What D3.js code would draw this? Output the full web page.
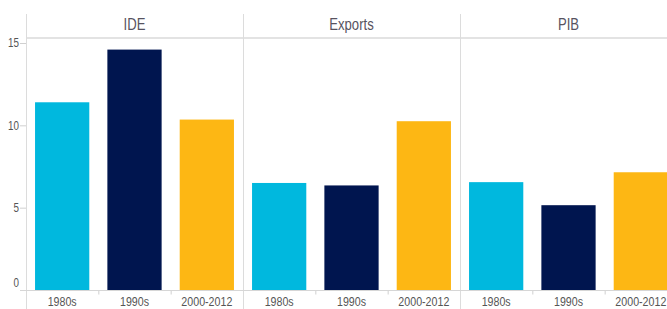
<!DOCTYPE html>
<html>
<head>
<meta charset="utf-8">
<script src="https://cdn.jsdelivr.net/npm/d3@7"></script>
<style>
  body { margin: 0; background: #fff; }
  svg { display: block; font-family: "Liberation Sans", Arial, sans-serif; }
</style>
</head>
<body>
<svg id="chart" width="667" height="309"></svg>
<script>
// facets and periods
var indicators = ["IDE", "Exports", "PIB"];
var periods = ["1980s", "1990s", "2000-2012"];

// values, one array per indicator
var ideValues = [11.4, 14.6, 10.35];
var exportsValues = [6.5, 6.35, 10.25];
var pibValues = [6.55, 5.15, 7.15];

var yTicks = [0, 5, 10, 15];
var colors = ["#00b8de", "#00154f", "#fdb714"];

var series = [ideValues, exportsValues, pibValues];
var data = [];
indicators.forEach(function(ind, i) {
  periods.forEach(function(p, j) {
    data.push({ indicator: ind, period: p, value: series[i][j] });
  });
});

var svg = d3.select("#chart");
var left = 26, panelW = 217, headerY = 38, bottom = 290;
var narrow = 0.82; // squeeze text horizontally, like a narrow font

var fx = d3.scaleBand()
  .domain(indicators)
  .range([left, left + panelW * indicators.length]);

var x = d3.scaleBand()
  .domain(periods)
  .range([0, panelW])
  .paddingInner(0.25)
  .paddingOuter(0.125);

var y = d3.scaleLinear()
  .domain([0, 15])
  .range([bottom, 43]);

var color = d3.scaleOrdinal().domain(periods).range(colors);

function narrowText(sel, fx_, fy_) {
  sel.attr("x", 0).attr("y", 0)
    .attr("transform", function(d, i) {
      return "translate(" + fx_(d, i) + "," + fy_(d, i) + ") scale(" + narrow + ",1)";
    });
}

// header line
svg.append("line")
  .attr("x1", left).attr("x2", 667)
  .attr("y1", headerY).attr("y2", headerY)
  .attr("stroke", "#e3e3e3")
  .attr("stroke-width", 2);

// panel dividers (incl. left axis line)
var dividers = indicators.map(function(d) { return fx(d); });
svg.append("g").selectAll("line")
  .data(dividers)
  .enter().append("line")
  .attr("x1", function(d) { return d + 0.5; })
  .attr("x2", function(d) { return d + 0.5; })
  .attr("y1", 14).attr("y2", 309)
  .attr("stroke", "#dcdcdc");

// panel titles
svg.append("g").selectAll("text")
  .data(indicators)
  .enter().append("text")
  .attr("text-anchor", "middle")
  .attr("font-size", 16)
  .attr("fill", "#57535f")
  .text(function(d) { return d; })
  .call(narrowText, function(d) { return fx(d) + panelW / 2; }, function() { return 30; });

// y axis
var yAxis = d3.axisLeft(y).tickValues(yTicks).tickSize(6).tickPadding(1);
var yg = svg.append("g")
  .attr("transform", "translate(" + left + ",0)")
  .call(yAxis);
yg.select(".domain").remove();
yg.selectAll(".tick line").attr("stroke", "#d0d0d0");
yg.selectAll(".tick text")
  .attr("font-size", 12)
  .attr("fill", "#555")
  .attr("font-family", "Liberation Sans, Arial, sans-serif")
  .attr("x", -7 / narrow)
  .attr("transform", "scale(" + narrow + ",1)")
  .attr("dy", function(d) { return d === 0 ? "-0.3em" : "0.32em"; });

// bars
var panels = svg.append("g").selectAll("g")
  .data(indicators)
  .enter().append("g")
  .attr("transform", function(d) { return "translate(" + fx(d) + ",0)"; });

panels.selectAll("rect")
  .data(function(ind) { return data.filter(function(d) { return d.indicator === ind; }); })
  .enter().append("rect")
  .attr("x", function(d) { return x(d.period); })
  .attr("y", function(d) { return y(d.value); })
  .attr("width", x.bandwidth())
  .attr("height", function(d) { return y(0) - y(d.value); })
  .attr("fill", function(d) { return color(d.period); });

// x axis line
svg.append("line")
  .attr("x1", 20).attr("x2", 667)
  .attr("y1", bottom + 0.5).attr("y2", bottom + 0.5)
  .attr("stroke", "#d6d6d6");

// x axis per panel
panels.each(function() {
  var g = d3.select(this).append("g")
    .attr("transform", "translate(0," + (bottom + 0.5) + ")");
  var step = x.step();
  g.selectAll("line")
    .data(d3.range(1, periods.length))
    .enter().append("line")
    .attr("x1", function(i) { return i * step + 0.5; })
    .attr("x2", function(i) { return i * step + 0.5; })
    .attr("y1", 0).attr("y2", 4)
    .attr("stroke", "#d0d0d0");
  g.selectAll("text")
    .data(periods)
    .enter().append("text")
    .attr("text-anchor", "middle")
    .attr("font-size", 13)
    .attr("fill", "#555")
    .text(function(d) { return d; })
    .call(narrowText, function(d) { return x(d) + x.bandwidth() / 2; }, function() { return 15; });
});
</script>
</body>
</html>
